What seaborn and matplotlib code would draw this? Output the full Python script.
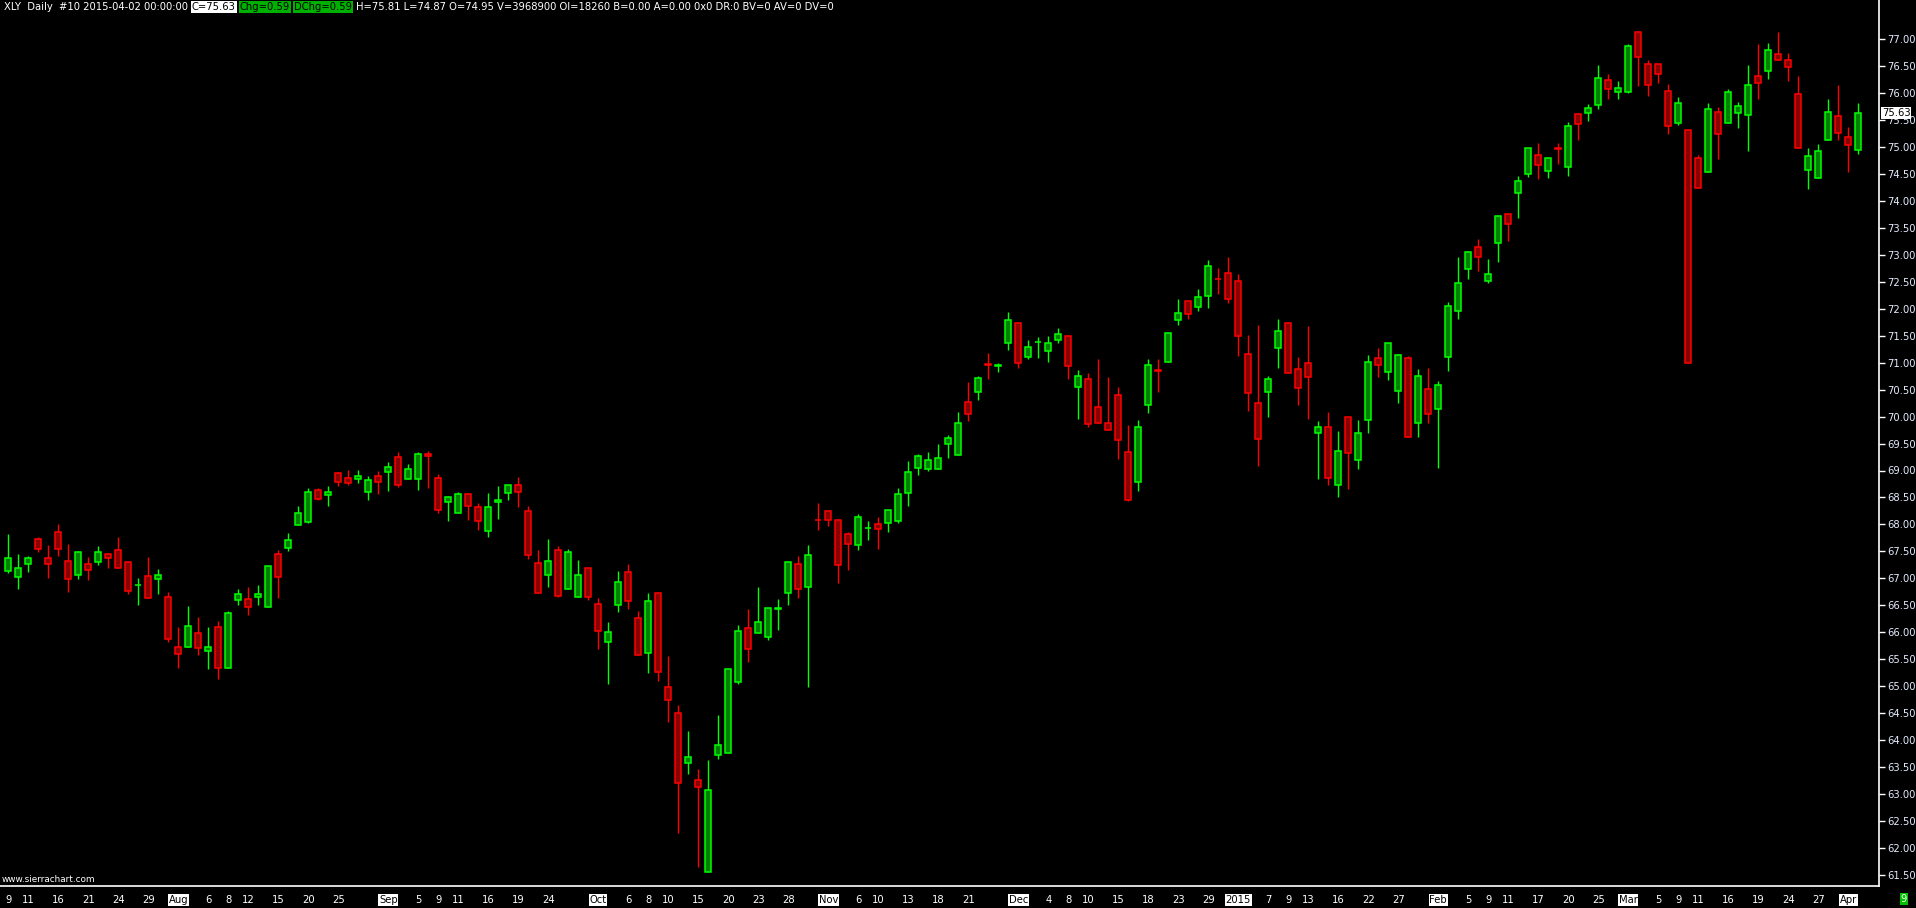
import matplotlib
matplotlib.use("Agg")
import matplotlib.pyplot as plt
from matplotlib import font_manager
import seaborn as sns
import numpy as np
import pandas as pd

# XLY daily bars, 2014-07-09 .. 2015-04-02 (NYSE trading days)
holidays = ["2014-07-04", "2014-09-01", "2014-11-27", "2014-12-25",
            "2015-01-01", "2015-01-19", "2015-02-16"]
dates = pd.bdate_range("2014-07-09", "2015-04-02", freq="C", holidays=holidays)

opens = [67.14, 67.02, 67.26, 67.72, 67.37, 67.85, 67.33, 67.07, 67.26, 67.31,
         67.46, 67.52, 67.31, 66.87, 67.04, 66.98, 66.65, 65.72, 65.72, 65.98,
         65.66, 66.09, 65.33, 66.60, 66.61, 66.66, 66.46, 67.45, 67.56, 67.98,
         68.05, 68.63, 68.55, 68.95, 68.87, 68.85, 68.61, 68.89, 68.98, 69.25,
         68.85, 68.85, 69.31, 68.86, 68.42, 68.21, 68.56, 68.32, 67.87, 68.42,
         68.58, 68.73, 68.24, 67.28, 67.06, 67.52, 66.81, 66.65, 67.20, 66.52,
         65.81, 66.50, 67.11, 66.26, 65.62, 66.72, 64.98, 64.50, 63.58, 63.25,
         61.56, 63.72, 63.75, 65.08, 66.07, 65.98, 65.92, 66.43, 66.73, 67.26,
         66.83, 68.09, 68.24, 68.09, 67.83, 67.61, 67.93, 68.00, 68.02, 68.07,
         68.59, 69.05, 69.02, 69.02, 69.49, 69.28, 70.27, 70.45, 70.97, 70.94,
         71.36, 71.73, 71.10, 71.38, 71.22, 71.43, 71.49, 70.54, 70.69, 70.17,
         69.88, 70.41, 69.34, 68.79, 70.21, 70.86, 71.01, 71.79, 72.14, 72.03,
         72.23, 72.56, 72.66, 72.51, 71.17, 70.25, 70.45, 71.28, 71.73, 70.88,
         70.99, 69.69, 69.80, 68.74, 69.99, 69.19, 69.93, 71.08, 70.82, 70.47,
         71.08, 69.88, 70.51, 70.15, 71.10, 71.95, 72.73, 73.14, 72.51, 73.23,
         73.75, 74.14, 74.51, 74.85, 74.55, 74.99, 74.64, 75.61, 75.63, 75.79,
         76.24, 76.02, 76.03, 77.13, 76.55, 76.54, 76.05, 75.45, 75.31, 74.79,
         74.53, 75.65, 75.44, 75.63, 75.59, 76.31, 76.42, 76.72, 76.61, 75.98,
         74.57, 74.42, 75.14, 75.57, 75.18, 74.95]
highs = [67.83, 67.45, 67.41, 67.76, 67.61, 68.01, 67.63, 67.50, 67.39, 67.59,
         67.47, 67.76, 67.31, 67.00, 67.39, 67.17, 66.74, 66.10, 66.48, 66.29,
         66.10, 66.20, 66.39, 66.81, 66.84, 66.88, 67.22, 67.53, 67.84, 68.34,
         68.67, 68.67, 68.71, 68.97, 69.01, 69.01, 68.90, 68.99, 69.15, 69.35,
         69.12, 69.35, 69.36, 68.94, 68.53, 68.60, 68.58, 68.39, 68.58, 68.71,
         68.74, 68.88, 68.35, 67.53, 67.73, 67.60, 67.54, 67.34, 67.20, 66.64,
         66.18, 67.14, 67.27, 66.39, 66.73, 66.72, 65.56, 64.65, 64.17, 63.46,
         63.63, 64.46, 65.31, 66.13, 66.43, 66.84, 66.44, 66.62, 67.30, 67.41,
         67.62, 68.40, 68.24, 68.09, 67.85, 68.19, 68.06, 68.14, 68.26, 68.67,
         69.18, 69.31, 69.35, 69.49, 69.66, 70.09, 70.64, 70.75, 71.18, 70.99,
         71.94, 71.73, 71.42, 71.48, 71.50, 71.64, 71.51, 70.86, 70.81, 71.07,
         70.73, 70.55, 69.84, 69.94, 71.07, 71.07, 71.55, 72.18, 72.14, 72.37,
         72.91, 72.76, 72.97, 72.64, 71.51, 71.70, 70.75, 71.81, 71.75, 71.11,
         71.68, 69.92, 70.09, 69.73, 69.99, 69.93, 71.14, 71.27, 71.36, 71.17,
         71.13, 70.88, 70.90, 70.66, 72.12, 72.96, 73.08, 73.30, 72.92, 73.73,
         73.75, 74.46, 74.99, 75.08, 74.79, 75.08, 75.47, 75.61, 75.80, 76.52,
         76.36, 76.23, 76.91, 77.13, 76.61, 76.54, 76.17, 75.93, 75.31, 74.85,
         75.81, 75.74, 76.08, 75.83, 76.52, 76.91, 76.93, 77.14, 76.75, 76.32,
         74.98, 75.05, 75.89, 76.15, 75.37, 75.81]
lows = [67.09, 66.81, 67.12, 67.49, 67.01, 67.42, 66.75, 66.99, 66.97, 67.25,
        67.20, 67.19, 66.70, 66.51, 66.63, 66.71, 65.82, 65.34, 65.72, 65.58,
        65.32, 65.14, 65.33, 66.51, 66.31, 66.51, 66.46, 66.64, 67.50, 67.98,
        68.03, 68.46, 68.34, 68.72, 68.73, 68.77, 68.45, 68.57, 68.62, 68.70,
        68.85, 68.64, 68.68, 68.22, 68.07, 68.21, 68.08, 67.90, 67.77, 68.10,
        68.45, 68.33, 67.35, 66.72, 66.83, 66.66, 66.81, 66.65, 66.59, 65.69,
        65.03, 66.38, 66.43, 65.57, 65.24, 65.10, 64.33, 62.28, 63.36, 61.65,
        61.56, 63.65, 63.75, 65.04, 65.45, 65.98, 65.86, 66.04, 66.50, 66.64,
        64.98, 67.90, 67.97, 66.92, 67.16, 67.52, 67.71, 67.54, 67.85, 68.03,
        68.34, 68.92, 69.00, 69.02, 69.24, 69.28, 69.91, 70.31, 70.70, 70.82,
        71.24, 70.91, 71.07, 71.09, 71.02, 71.37, 70.70, 69.96, 69.81, 69.88,
        69.75, 69.22, 68.43, 68.62, 70.07, 70.46, 71.01, 71.70, 71.82, 71.95,
        72.02, 72.28, 72.11, 71.13, 70.11, 69.09, 70.00, 70.91, 70.80, 70.22,
        69.96, 68.85, 68.74, 68.50, 68.65, 69.02, 69.70, 70.74, 70.68, 70.26,
        69.62, 69.63, 69.89, 69.05, 70.85, 71.82, 72.56, 72.71, 72.47, 72.86,
        73.25, 73.69, 74.45, 74.41, 74.43, 74.69, 74.47, 75.14, 75.49, 75.71,
        75.90, 75.90, 76.01, 76.13, 75.95, 76.19, 75.24, 75.41, 70.99, 74.24,
        74.53, 74.77, 75.44, 75.36, 74.93, 75.90, 76.27, 76.61, 76.23, 74.99,
        74.23, 74.42, 75.14, 75.13, 74.53, 74.87]
closes = [67.37, 67.20, 67.37, 67.55, 67.26, 67.54, 66.98, 67.48, 67.15, 67.48,
          67.37, 67.19, 66.76, 66.88, 66.63, 67.06, 65.87, 65.59, 66.11, 65.70,
          65.72, 65.33, 66.35, 66.71, 66.46, 66.70, 67.22, 67.03, 67.71, 68.22,
          68.60, 68.48, 68.61, 68.79, 68.76, 68.89, 68.82, 68.79, 69.06, 68.74,
          69.02, 69.30, 69.27, 68.27, 68.51, 68.56, 68.35, 68.06, 68.32, 68.45,
          68.74, 68.61, 67.44, 66.72, 67.33, 66.68, 67.48, 67.06, 66.65, 66.03,
          66.01, 66.93, 66.57, 65.57, 66.57, 65.27, 64.75, 63.21, 63.68, 63.12,
          63.07, 63.90, 65.31, 66.02, 65.69, 66.18, 66.44, 66.44, 67.30, 66.81,
          67.43, 68.08, 68.09, 67.25, 67.64, 68.13, 67.94, 67.92, 68.26, 68.56,
          68.98, 69.26, 69.19, 69.23, 69.60, 69.89, 70.04, 70.71, 70.96, 70.95,
          71.80, 70.99, 71.30, 71.39, 71.36, 71.54, 70.93, 70.75, 69.86, 69.88,
          69.75, 69.56, 68.46, 69.80, 70.95, 70.84, 71.55, 71.93, 71.90, 72.21,
          72.79, 72.55, 72.19, 71.49, 70.43, 69.58, 70.69, 71.58, 70.80, 70.53,
          70.73, 69.80, 68.87, 69.37, 69.32, 69.69, 71.01, 70.95, 71.36, 71.14,
          69.62, 70.75, 70.04, 70.58, 72.06, 72.47, 73.05, 72.97, 72.64, 73.73,
          73.57, 74.38, 74.99, 74.66, 74.79, 74.96, 75.39, 75.42, 75.72, 76.28,
          76.07, 76.09, 76.87, 76.68, 76.16, 76.35, 75.39, 75.81, 70.99, 74.24,
          75.70, 75.24, 76.03, 75.76, 76.15, 76.18, 76.80, 76.61, 76.48, 74.99,
          74.83, 74.92, 75.66, 75.26, 75.04, 75.63]
volume = 3968900
open_interest = 18260

tick_dates = ["2014-07-09", "2014-07-11", "2014-07-16", "2014-07-21", "2014-07-24",
              "2014-07-29", "2014-08-01", "2014-08-06", "2014-08-08", "2014-08-12",
              "2014-08-15", "2014-08-20", "2014-08-25", "2014-09-02", "2014-09-05",
              "2014-09-09", "2014-09-11", "2014-09-16", "2014-09-19", "2014-09-24",
              "2014-10-01", "2014-10-06", "2014-10-08", "2014-10-10", "2014-10-15",
              "2014-10-20", "2014-10-23", "2014-10-28", "2014-11-03", "2014-11-06",
              "2014-11-10", "2014-11-13", "2014-11-18", "2014-11-21", "2014-12-01",
              "2014-12-04", "2014-12-08", "2014-12-10", "2014-12-15", "2014-12-18",
              "2014-12-23", "2014-12-29", "2015-01-02", "2015-01-07", "2015-01-09",
              "2015-01-13", "2015-01-16", "2015-01-22", "2015-01-27", "2015-02-02",
              "2015-02-05", "2015-02-09", "2015-02-11", "2015-02-17", "2015-02-20",
              "2015-02-25", "2015-03-02", "2015-03-05", "2015-03-09", "2015-03-11",
              "2015-03-16", "2015-03-19", "2015-03-24", "2015-03-27", "2015-04-01"]

df = pd.DataFrame({"Date": dates, "Open": opens, "High": highs,
                   "Low": lows, "Close": closes})
df["x"] = np.arange(len(df))
df["up"] = df["Close"] >= df["Open"]

W, H = 1916, 908
sns.set_theme(style="dark", rc={"axes.facecolor": "black", "figure.facecolor": "black"})
names = {f.name for f in font_manager.fontManager.ttflist}
narrow = "Liberation Sans Narrow" if "Liberation Sans Narrow" in names else "DejaVu Sans"
fsz = 9.2 if narrow != "DejaVu Sans" else 7.2
plt.rcParams["font.family"] = [narrow, "DejaVu Sans"]

fig = plt.figure(figsize=(W / 100, H / 100), dpi=100)
ax = fig.add_axes([0, 22 / H, 1879 / W, 886 / H])
ax.set_facecolor("black")

GREEN, GREEN_FILL = "#00ff00", "#008000"
RED, RED_FILL = "#ff0000", "#880000"
edge = np.where(df["up"], GREEN, RED)
fill = np.where(df["up"], GREEN_FILL, RED_FILL)

# wicks then bodies
ax.vlines(df["x"], df["Low"], df["High"], colors=edge, lw=1.0, zorder=2)
body_lo = df[["Open", "Close"]].min(axis=1)
body_h = (df["Close"] - df["Open"]).abs().clip(lower=0.01)
ax.bar(df["x"], body_h, bottom=body_lo, width=0.62, color=fill,
       edgecolor=edge, linewidth=1.1, zorder=3)

ax.set_xlim(-0.83, 187.07)
ax.set_ylim(77 - (886 - 39.3) / 53.9, 77 + 39.3 / 53.9)

# y axis on the right
ax.yaxis.tick_right()
yt = np.arange(61.5, 77.01, 0.5)
ax.set_yticks(yt)
ax.set_yticklabels([f"{v:.2f}" for v in yt], color="#e6ecff", fontsize=fsz)
ax.tick_params(axis="y", colors="white", length=4, width=1, pad=2, labelcolor="#e6ecff")

# x axis date labels
pos = {d: i for i, d in enumerate(df["Date"].dt.strftime("%Y-%m-%d"))}
tick_x = [pos[d] for d in tick_dates]
labels, month_start = [], []
for d in tick_dates:
    ts = pd.Timestamp(d)
    prev = df["Date"][pos[d] - 1] if pos[d] > 0 else None
    first = prev is not None and prev.month != ts.month
    month_start.append(first)
    if first:
        labels.append("2015" if ts.month == 1 else ts.strftime("%b"))
    else:
        labels.append(str(ts.day))
ax.set_xticks(tick_x)
ax.set_xticklabels(labels, fontsize=fsz)
ax.tick_params(axis="x", colors="white", length=5, width=1, pad=1.5, labelcolor="white")
for lab, first in zip(ax.get_xticklabels(), month_start):
    if first:
        lab.set_color("black")
        lab.set_bbox(dict(facecolor="white", edgecolor="none", pad=0.4))

for side in ["top", "left"]:
    ax.spines[side].set_visible(False)
for side in ["right", "bottom"]:
    ax.spines[side].set_color("white")
    ax.spines[side].set_linewidth(1.2)
ax.grid(False)

# current price marker
last = df.iloc[-1]
ax.annotate(f"{last['Close']:.2f}", xy=(1.0, last["Close"]), xycoords=("axes fraction", "data"),
            xytext=(3, 0), textcoords="offset pixels", va="center", ha="left",
            fontsize=fsz, color="black",
            bbox=dict(facecolor="white", edgecolor="none", pad=0.5), zorder=10)

# header line
chg = last["Close"] - df["Close"].iloc[-2]
segments = [
    (f"XLY  Daily  #10 {last['Date']:%Y-%m-%d} 00:00:00", None, "white"),
    (f"C={last['Close']:.2f}", "white", "black"),
    (f"Chg={chg:.2f}", "#00b000", "black"),
    (f"DChg={chg:.2f}", "#00b000", "black"),
    (f"H={last['High']:.2f} L={last['Low']:.2f} O={last['Open']:.2f} V={volume} "
     f"OI={open_interest} B=0.00 A=0.00 0x0 DR:0 BV=0 AV=0 DV=0", None, "white"),
]
renderer = fig.canvas.get_renderer()
xpix = 4
for txt, bg, col in segments:
    kw = {}
    if bg:
        kw["bbox"] = dict(facecolor=bg, edgecolor="none", pad=0.5)
    t = fig.text(xpix / W, 1 - 2 / H, txt, color=col, fontsize=fsz, va="top", ha="left", **kw)
    bb = t.get_window_extent(renderer)
    xpix = bb.x1 + 4

fig.text(2 / W, 1 - 879 / H, "www.sierrachart.com", color="white", fontsize=fsz - 0.8,
         va="center", ha="left")
fig.text(1904 / W, 1 - 899 / H, "9", color="white", fontsize=fsz, va="center", ha="center",
         bbox=dict(facecolor="#00c000", edgecolor="none", pad=0.8))

fig.savefig("out.png", dpi=100, facecolor="black")
